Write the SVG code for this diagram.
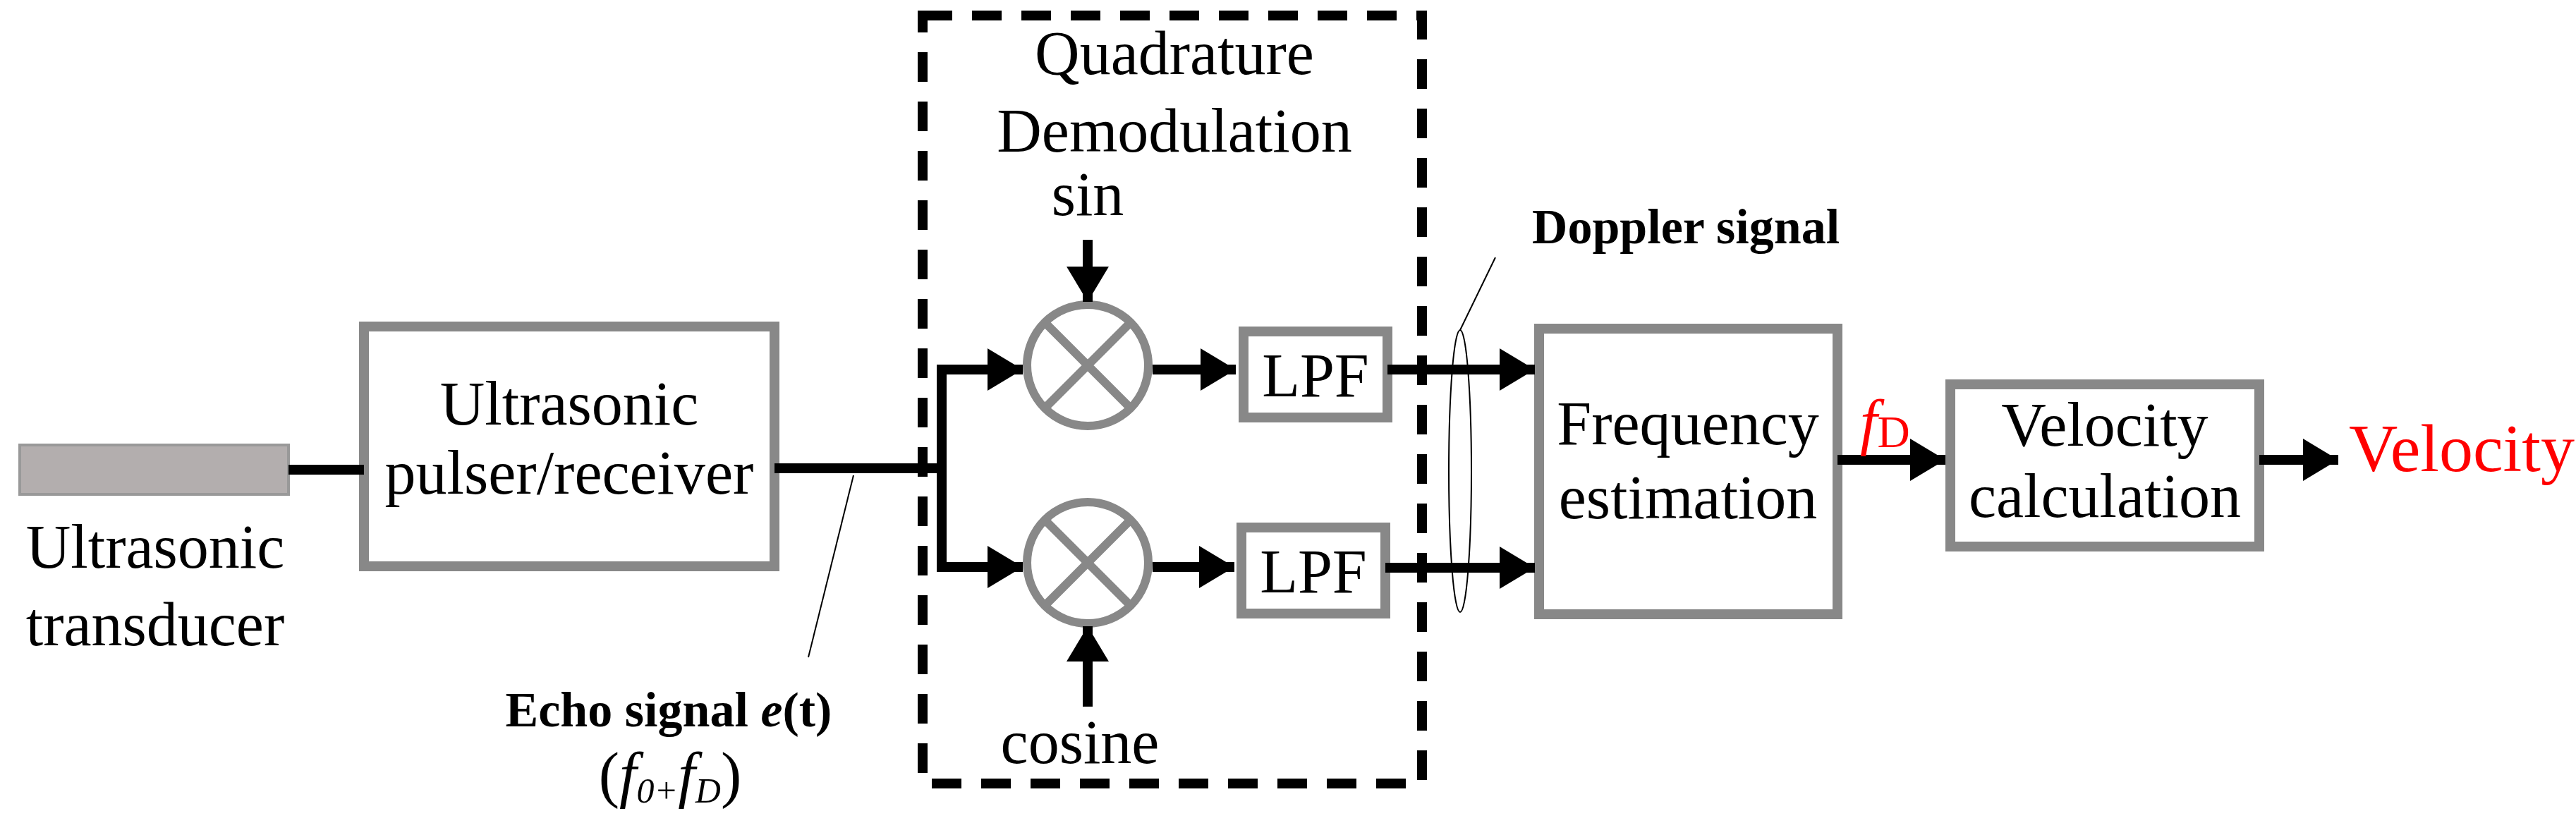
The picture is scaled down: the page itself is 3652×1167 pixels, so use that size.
<svg xmlns="http://www.w3.org/2000/svg" width="3652" height="1167" viewBox="0 0 3652 1167">
<style>
.box{fill:#fff;stroke:#888;stroke-width:14}
.t{font-family:"Liberation Serif",serif;font-size:88px;fill:#000;text-anchor:middle}
.b{font-family:"Liberation Serif",serif;font-size:70px;font-weight:bold;fill:#000;text-anchor:middle}
.w{stroke:#000;stroke-width:14;fill:none}
.thin{stroke:#000;stroke-width:2;fill:none}
</style>
<defs>
<marker id="ah" markerUnits="userSpaceOnUse" markerWidth="50" markerHeight="60" refX="50" refY="30" orient="auto"><path d="M0,0 L50,30 L0,60 Z" fill="#000"/></marker>
</defs>
<rect width="3652" height="1167" fill="#fff"/>
<g id="demod-frame"><rect x="1308" y="22" width="708" height="1089" fill="none" stroke="#000" stroke-width="14" stroke-dasharray="42,28"/>
<text class="t" x="1665" y="105">Quadrature</text><text class="t" x="1665" y="215">Demodulation</text></g>
<g id="transducer"><rect x="28" y="631" width="381" height="70" fill="#b3aeae" stroke="#999" stroke-width="4"/>
<text class="t" x="220" y="805">Ultrasonic</text><text class="t" x="220" y="915">transducer</text></g>
<g id="pulser"><rect class="box" x="516" y="463" width="582" height="340"/>
<text class="t" x="807" y="602">Ultrasonic</text><text class="t" x="807" y="700">pulser/receiver</text></g>
<g id="mixer-sin"><circle cx="1542" cy="518" r="86" fill="#fff" stroke="#888" stroke-width="12"/><path d="M1481,457 L1603,579 M1603,457 L1481,579" stroke="#888" stroke-width="12"/></g>
<g id="mixer-cos"><circle cx="1542" cy="798" r="86" fill="#fff" stroke="#888" stroke-width="12"/><path d="M1481,737 L1603,859 M1603,737 L1481,859" stroke="#888" stroke-width="12"/></g>
<g id="lpf1"><rect class="box" x="1763" y="470" width="204" height="122"/><text class="t" x="1865" y="562">LPF</text></g>
<g id="lpf2"><rect class="box" x="1760" y="748" width="204" height="122"/><text class="t" x="1862" y="840">LPF</text></g>
<g id="freq"><rect class="box" x="2182" y="466" width="423" height="405"/><text class="t" x="2393" y="630">Frequency</text><text class="t" x="2393" y="735">estimation</text></g>
<g id="velcalc"><rect class="box" x="2765" y="545" width="438" height="230"/><text class="t" x="2984" y="632">Velocity</text><text class="t" x="2984" y="733">calculation</text></g>
<g id="connectors">
<line class="w" x1="409" y1="666" x2="516" y2="666"/>
<line class="w" x1="1098" y1="664" x2="1335" y2="664"/>
<path class="w" d="M1335,524 L1335,804"/>
<line class="w" x1="1328" y1="524" x2="1450" y2="524" marker-end="url(#ah)"/>
<line class="w" x1="1328" y1="804" x2="1450" y2="804" marker-end="url(#ah)"/>
<line class="w" x1="1542" y1="340" x2="1542" y2="428" marker-end="url(#ah)"/>
<line class="w" x1="1542" y1="1002" x2="1542" y2="888" marker-end="url(#ah)"/>
<line class="w" x1="1634" y1="524" x2="1752" y2="524" marker-end="url(#ah)"/>
<line class="w" x1="1634" y1="804" x2="1750" y2="804" marker-end="url(#ah)"/>
<line class="w" x1="1967" y1="524" x2="2176" y2="524" marker-end="url(#ah)"/>
<line class="w" x1="1964" y1="805" x2="2176" y2="805" marker-end="url(#ah)"/>
<line class="w" x1="2605" y1="652" x2="2758" y2="652" marker-end="url(#ah)"/>
<line class="w" x1="3203" y1="652" x2="3315" y2="652" marker-end="url(#ah)"/>
<ellipse cx="2070" cy="668" rx="16" ry="200" class="thin" stroke-width="4"/>
<line class="thin" x1="2070" y1="468" x2="2120" y2="365" stroke-width="3"/>
<line class="thin" x1="1210" y1="674" x2="1146" y2="932" stroke-width="3"/>
</g>
<g id="labels">
<text class="t" x="1542" y="305">sin</text>
<text class="t" x="1531" y="1082">cosine</text>
<text class="b" x="2390" y="345">Doppler signal</text>
<text class="b" x="948" y="1030" font-size="74">Echo signal <tspan font-style="italic">e</tspan>(t)</text>
<text class="t" x="950" y="1128" font-size="72" font-style="italic"><tspan font-style="normal">(</tspan>f<tspan font-size="50" dy="10">0+</tspan><tspan dy="-10">f</tspan><tspan font-size="50" dy="10">D</tspan><tspan dy="-10" font-style="normal">)</tspan></text>
<text x="2637" y="628" font-family="Liberation Serif,serif" font-size="88" fill="#f00"><tspan font-style="italic">f</tspan><tspan font-size="64" dy="6">D</tspan></text>
<text x="3330" y="668" font-family="Liberation Serif,serif" font-size="96" fill="#f00">Velocity</text>
</g>
</svg>
